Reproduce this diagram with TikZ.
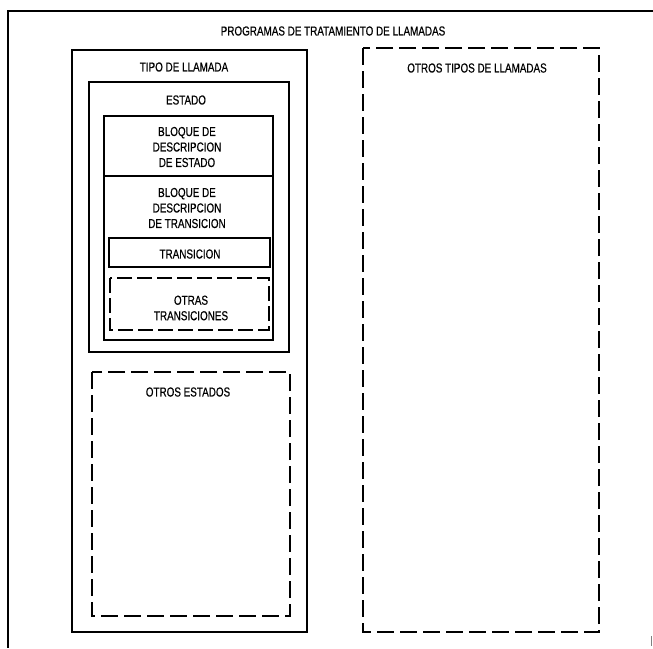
\documentclass[tikz,border=0pt]{standalone}
\usepackage{fontspec}
\setmainfont{Liberation Sans}[FakeStretch=0.76, FakeBold=0.5]
\begin{document}
\begin{tikzpicture}[x=1pt,y=-1pt,
  lbl/.style={font=\fontsize{13}{15.5}\selectfont, align=center, inner sep=0pt},
  solidbox/.style={draw=black, line width=2pt},
  dashbox/.style={draw=black, line width=2.4pt, dash pattern=on 17pt off 6pt},
  frameline/.style={draw=black, line width=2pt}]
\useasboundingbox (0,0) rectangle (653,648);
% outer frame (open at right and bottom)
\coordinate (ftl) at (8,11);
\coordinate (ftr) at (653,11);
\coordinate (fbl) at (8,648);
\draw[frameline] (ftr) -- (ftl) -- (fbl);
\coordinate (tk1) at (651,636);
\coordinate (tk2) at (651,646);
\draw[black!50, line width=0.8pt] (tk1) -- (tk2);
\node[lbl] (title) at (333,31) {PROGRAMAS DE TRATAMIENTO DE LLAMADAS};
% tipo de llamada
\draw[solidbox] (72,50) rectangle (307,632);
\node[lbl] (tipo) at (184,67) {TIPO DE LLAMADA};
% estado
\draw[solidbox] (89,82) rectangle (289,352);
\node[lbl] (estado) at (186,100) {ESTADO};
% bloque
\draw[solidbox] (104,116) rectangle (273,340);
\draw[line width=1.6pt] (104,176) -- (273,176);
\node[lbl] (bde) at (187,147) {BLOQUE DE\\DESCRIPCION\\DE ESTADO};
\node[lbl] (bdt) at (187,208) {BLOQUE DE\\DESCRIPCION\\DE TRANSICION};
% transicion
\draw[solidbox] (109,238) rectangle (270,267);
\node[lbl] (trans) at (190,254) {TRANSICION};
% otras transiciones
\draw[dashbox, dash pattern=on 15pt off 5pt] (110,278) rectangle (269,330);
\node[lbl] (otrast) at (191,308) {OTRAS\\TRANSICIONES};
% otros estados
\draw[dashbox] (92,372) rectangle (290,616);
\node[lbl] (otrose) at (188,392) {OTROS ESTADOS};
% otros tipos
\draw[dashbox] (363,48) rectangle (599,632);
\node[lbl] (otrostipos) at (477,68) {OTROS TIPOS DE LLAMADAS};
\end{tikzpicture}
\end{document}
